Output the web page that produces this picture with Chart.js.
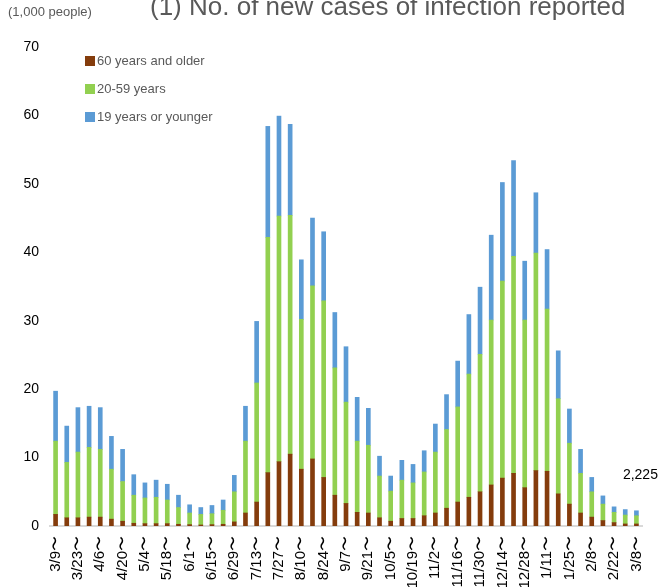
<!DOCTYPE html>
<html>
<head>
<meta charset="utf-8">
<script src="https://cdn.jsdelivr.net/npm/chart.js@4/dist/chart.umd.min.js"></script>
<style>
  html, body { margin: 0; padding: 0; background: #fff; overflow: hidden; }
  #wrap { width: 659px; height: 587px; }
</style>
</head>
<body>
<div id="wrap"><canvas id="cases-chart" width="659" height="587"></canvas></div>
<script>
const weeks = ['3/9','3/16','3/23','3/30','4/6','4/13','4/20','4/27','5/4','5/11','5/18','5/25',
  '6/1','6/8','6/15','6/22','6/29','7/6','7/13','7/20','7/27','8/3','8/10','8/17','8/24','8/31',
  '9/7','9/14','9/21','9/28','10/5','10/12','10/19','10/26','11/2','11/9','11/16','11/23','11/30',
  '12/7','12/14','12/21','12/28','1/4','1/11','1/18','1/25','2/1','2/8','2/15','2/22','3/1','3/8'];

// thousands of people per week
const older = [1.7,1.2,1.2,1.3,1.3,1.0,0.7,0.4,0.35,0.35,0.35,0.25,
  0.2,0.15,0.2,0.25,0.6,1.9,3.5,7.8,9.4,10.5,8.3,9.8,7.1,4.5,
  3.3,2.0,1.9,1.2,0.7,1.1,1.1,1.5,1.9,2.6,3.5,4.2,5.0,
  6.0,7.0,7.7,5.6,8.1,8.0,4.7,3.2,1.9,1.3,0.8,0.5,0.3,0.3];
const middle = [10.7,8.1,9.6,10.2,9.9,7.3,5.8,4.1,3.75,3.85,3.45,2.45,
  1.7,1.55,1.6,2.05,4.4,10.5,17.4,34.4,35.9,34.9,21.9,25.3,25.8,18.6,
  14.8,10.4,9.9,6.1,4.4,5.6,5.2,6.4,8.9,11.5,13.9,18.0,20.1,
  24.1,28.8,31.7,24.5,31.8,23.7,13.9,8.9,5.8,3.7,2.4,1.5,1.3,1.2];
const young = [7.3,5.3,6.5,6.0,6.1,4.8,4.7,3.0,2.2,2.5,2.3,1.8,
  1.2,1.0,1.2,1.5,2.4,5.1,9.0,16.2,14.6,13.3,8.7,9.9,10.1,8.1,
  8.1,6.4,5.4,2.9,2.2,2.9,2.7,3.1,4.1,5.1,6.7,8.7,9.8,
  12.4,14.4,14.0,8.6,8.8,8.7,7.0,5.0,3.5,2.1,1.2,0.8,0.8,0.725];

const lastLabel = '2,225';
const font = "'Liberation Sans', Arial, sans-serif";

const labels = weeks.map(w => w + '〜');

const extras = {
  id: 'extras',
  afterDraw(chart) {
    const c = chart.ctx;
    const x = chart.scales.x, y = chart.scales.y;
    c.save();
    // title (its top is cut off in the original)
    c.fillStyle = '#595959';
    c.font = '26px ' + font;
    c.textAlign = 'left';
    c.textBaseline = 'alphabetic';
    c.fillText('(1) No. of new cases of infection reported', 150, 15);
    c.font = '13px ' + font;
    c.fillText('(1,000 people)', 8, 16);
    // legend inside plot
    const ds = chart.data.datasets;
    c.font = '13px ' + font;
    c.textBaseline = 'middle';
    ds.forEach((d, k) => {
      const ly = 61 + k * 28;
      c.fillStyle = d.backgroundColor;
      c.fillRect(85, ly - 5, 10, 10);
      c.fillStyle = '#595959';
      c.fillText(d.label, 97, ly);
    });
    // last value label
    const n = weeks.length - 1;
    const tot = older[n] + middle[n] + young[n];
    c.fillStyle = '#000';
    c.font = '14px ' + font;
    c.textAlign = 'center';
    c.fillText(lastLabel, x.getPixelForValue(n) + 4, y.getPixelForValue(tot) - 36);
    c.restore();
  }
};

const data = {
  labels: labels,
  datasets: [
    { label: '60 years and older', data: older, backgroundColor: '#843C0C' },
    { label: '20-59 years', data: middle, backgroundColor: '#92D050' },
    { label: '19 years or younger', data: young, backgroundColor: '#5B9BD5' }
  ]
};

const config = {
  type: 'bar',
  data: data,
  options: {
    responsive: false,
    animation: false,
    layout: { padding: { top: 47, left: 13, right: 17, bottom: 0 } },
    datasets: { bar: { barThickness: 4 } },
    plugins: {
      legend: { display: false },
      title: { display: false },
      tooltip: { enabled: false }
    },
    scales: {
      x: {
        stacked: true,
        grid: { display: false, drawTicks: false },
        border: { color: '#d9d9d9', width: 2 },
        afterFit: (scale) => {
          scale.height = 61;
          scale.paddingLeft = 0;
          scale.paddingRight = 0;
        },
        ticks: {
          autoSkip: false,
          maxRotation: 90,
          minRotation: 90,
          padding: 10,
          color: '#000',
          font: { family: font, size: 15 },
          callback: (v, i) => i % 2 === 0 ? labels[i] : ''
        }
      },
      y: {
        stacked: true,
        min: 0,
        max: 70,
        grid: { display: false, drawTicks: false },
        border: { display: false },
        afterFit: (scale) => { scale.width = 37; },
        ticks: {
          stepSize: 10,
          padding: 11,
          color: '#000',
          font: { family: font, size: 14 }
        }
      }
    }
  },
  plugins: [extras]
};

new Chart(document.getElementById('cases-chart'), config);
</script>
</body>
</html>
